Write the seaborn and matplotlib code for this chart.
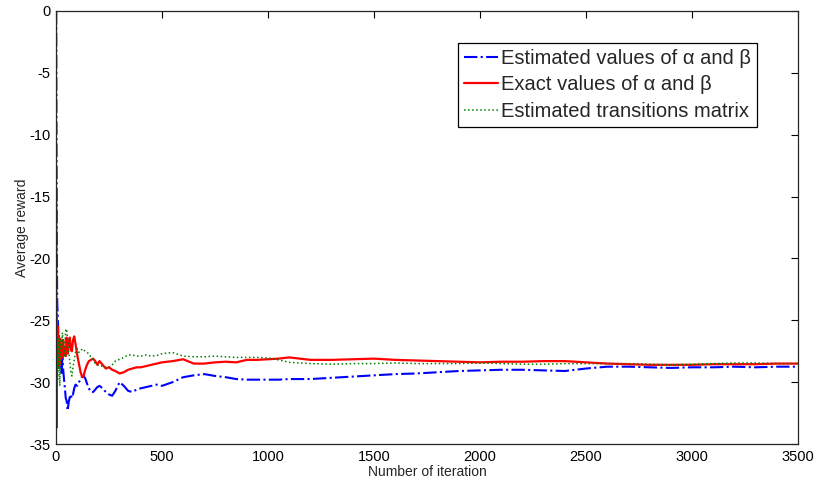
import matplotlib
matplotlib.use("Agg")
import matplotlib.pyplot as plt
import seaborn as sns
import pandas as pd

# ---- data ----
iterations = [1, 2, 3, 4, 5, 6, 8, 10, 12, 14,
              16, 18, 20, 23, 26, 30, 34, 38, 42, 46,
              50, 55, 60, 65, 70, 75, 80, 86, 92, 100,
              108, 116, 124, 130, 138, 146, 155, 165, 175, 185,
              195, 205, 220, 235, 250, 265, 280, 300, 320, 340,
              360, 380, 400, 425, 450, 475, 500, 550, 600, 650,
              700, 750, 800, 850, 900, 950, 1000, 1050, 1100, 1150,
              1200, 1300, 1400, 1500, 1600, 1700, 1800, 1900, 2000, 2100,
              2200, 2300, 2400, 2500, 2600, 2700, 2800, 2900, 3000, 3100,
              3200, 3300, 3400, 3500]

estimated_ab = [0, -8, -14, -19, -22, -23.7, -24.5, -25.5, -26.5, -27.3,
                -28.0, -28.4, -28.6, -27.5, -29.4, -28.0, -29.0, -29.8, -30.5, -31.3,
                -31.5, -32.3, -31.6, -31.2, -31.4, -30.9, -31.0, -30.5, -30.2, -30.3,
                -30.0, -29.8, -29.5, -29.5, -29.7, -30.1, -30.5, -30.8, -30.8, -30.6,
                -30.4, -30.3, -30.5, -30.8, -31.0, -31.1, -30.7, -30.0, -30.3, -30.7,
                -30.8, -30.6, -30.5, -30.4, -30.3, -30.2, -30.3, -30.0, -29.6, -29.45,
                -29.35, -29.5, -29.6, -29.75, -29.8, -29.8, -29.8, -29.8, -29.75, -29.75,
                -29.75, -29.65, -29.55, -29.45, -29.35, -29.3, -29.2, -29.1, -29.05, -29.0,
                -29.0, -29.05, -29.1, -28.9, -28.75, -28.75, -28.8, -28.85, -28.8, -28.8,
                -28.75, -28.8, -28.75, -28.75]

exact_ab = [-15, -33.7, -24.5, -30, -26, -28.5, -25.5, -28.8, -26.2, -28.4,
            -27, -28.6, -26.5, -28.2, -27.2, -28.0, -26.6, -27.8, -27.2, -27.9,
            -26.4, -27.7, -26.8, -26.4, -27.4, -27.5, -26.6, -26.3, -26.9, -27.8,
            -28.5, -29.2, -29.6, -29.5, -29.0, -28.6, -28.3, -28.2, -28.1, -28.3,
            -28.6, -28.3, -28.6, -28.9, -28.8, -29.0, -29.1, -29.3, -29.2, -29.0,
            -28.9, -28.8, -28.8, -28.7, -28.6, -28.5, -28.4, -28.3, -28.15, -28.5,
            -28.5, -28.4, -28.35, -28.4, -28.2, -28.2, -28.15, -28.1, -28.0, -28.1,
            -28.2, -28.2, -28.15, -28.1, -28.2, -28.25, -28.3, -28.35, -28.4, -28.35,
            -28.35, -28.3, -28.3, -28.4, -28.5, -28.55, -28.6, -28.6, -28.6, -28.55,
            -28.55, -28.55, -28.5, -28.5]

estimated_tm = [-13.5, -22, -27, -29.5, -30.5, -28.5, -29.8, -27, -29, -26.5,
                -28.3, -30.3, -27.5, -26.5, -27.2, -26.0, -27.0, -28.0, -26.8, -25.8,
                -25.7, -26.5, -27.5, -28.3, -29.2, -29.5, -28.8, -28.2, -27.6, -27.3,
                -27.6, -27.5, -27.3, -27.4, -27.5, -27.6, -27.7, -28.0, -28.2, -28.5,
                -28.6, -28.7, -28.7, -28.8, -28.8, -28.6, -28.3, -28.15, -28.0, -27.8,
                -27.8, -27.9, -27.9, -27.8, -27.9, -27.85, -27.7, -27.6, -27.9, -27.95,
                -27.95, -27.9, -27.95, -28.0, -28.0, -28.0, -28.05, -28.2, -28.4, -28.45,
                -28.5, -28.55, -28.5, -28.5, -28.45, -28.5, -28.5, -28.5, -28.45, -28.5,
                -28.55, -28.55, -28.5, -28.5, -28.5, -28.5, -28.55, -28.6, -28.55, -28.5,
                -28.45, -28.45, -28.5, -28.5]

labels = ["Estimated values of \u03b1 and \u03b2",
          "Exact values of \u03b1 and \u03b2",
          "Estimated transitions matrix"]
x_ticks = [0, 500, 1000, 1500, 2000, 2500, 3000, 3500]
y_ticks = [0, -5, -10, -15, -20, -25, -30, -35]

# ---- style ----
sns.set_theme(style="white")
plt.rcParams["font.family"] = ["Liberation Sans", "DejaVu Sans"]

fig = plt.figure(figsize=(8.17, 4.82), dpi=100)
ax = fig.add_axes([56 / 817, 1 - 444 / 482, (798 - 56) / 817, (444 - 11) / 482])

df = pd.DataFrame({"it": iterations, "a": estimated_ab, "b": exact_ab, "c": estimated_tm})

sns.lineplot(data=df, x="it", y="a", ax=ax, color="#0000ff", linestyle="-.",
             linewidth=1.5, label=labels[0], sort=False, estimator=None)
sns.lineplot(data=df, x="it", y="b", ax=ax, color="#ff0000", linestyle="-",
             linewidth=1.6, label=labels[1], sort=False, estimator=None)
sns.lineplot(data=df, x="it", y="c", ax=ax, color="#008000", linestyle=":",
             linewidth=1.1, label=labels[2], sort=False, estimator=None)

ax.set_xlim(0, 3500)
ax.set_ylim(-35, 0)
ax.set_xticks(x_ticks)
ax.set_yticks(y_ticks)
ax.set_xticklabels([str(v) for v in x_ticks])
ax.set_yticklabels([str(v) for v in y_ticks])
ax.tick_params(direction="in", length=5, width=0.8, top=True, right=True,
               labelsize=10.5, colors="black", pad=4)
for sp in ax.spines.values():
    sp.set_visible(True)
    sp.set_color("#262626")
    sp.set_linewidth(0.9)

ax.set_xlabel("Number of iteration", fontsize=10, labelpad=1)
ax.set_ylabel("Average reward", fontsize=10, labelpad=0)

leg = ax.legend(loc="upper right", bbox_to_anchor=(0.945, 0.926), borderaxespad=0,
                fontsize=14.5, frameon=True, fancybox=False, handlelength=1.7,
                handletextpad=0.15, labelspacing=0.36, borderpad=0.3)
leg.get_frame().set_edgecolor("black")
leg.get_frame().set_linewidth(0.9)
leg.get_frame().set_alpha(1)

fig.savefig("out.png", dpi=100)
